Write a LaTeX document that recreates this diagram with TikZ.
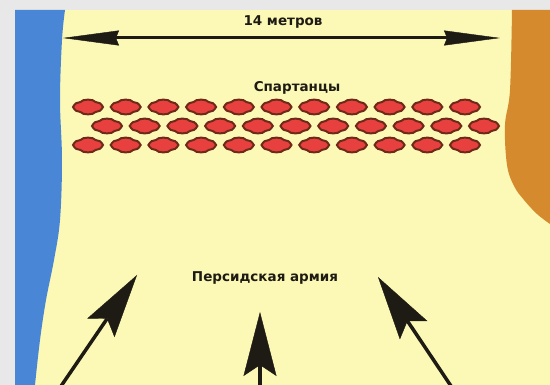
\documentclass[tikz,border=0pt]{standalone}
\usepackage{fontspec}
\setmainfont{DejaVu Sans}
\usetikzlibrary{arrows.meta}
\definecolor{bggrey}{HTML}{E8E8E8}
\definecolor{sand}{HTML}{FCF9B6}
\definecolor{sea}{HTML}{4A86D6}
\definecolor{mount}{HTML}{D68A2E}
\definecolor{shield}{HTML}{E8403E}
\definecolor{shieldedge}{HTML}{6E2A18}
\definecolor{ink}{HTML}{1E1A14}
\tikzset{
  lbl/.style={font=\bfseries\fontsize{13.5}{16}\selectfont, text=ink, inner sep=0pt},
  bigarrow/.style={draw=ink, line width=3.5pt, -{Stealth[length=64pt,width=33pt,inset=11pt,line width=0.4pt]}},
  spanarrow/.style={draw=ink, line width=3pt, {Stealth[length=56pt,width=15pt,inset=3pt,line width=0.4pt]}-{Stealth[length=56pt,width=15pt,inset=3pt,line width=0.4pt]}},
  soldier/.pic={
    \path[fill=shield, draw=shieldedge, line width=2pt]
      (-15,0) .. controls (-13,-3.5) and (-11,-5) .. (-7.5,-5)
      .. controls (-5.5,-8.2) and (5.5,-8.2) .. (7.5,-5)
      .. controls (11,-5) and (13,-3.5) .. (15,0)
      .. controls (13,3.5) and (11,5) .. (7.5,5)
      .. controls (5.5,8.2) and (-5.5,8.2) .. (-7.5,5)
      .. controls (-11,5) and (-13,3.5) .. (-15,0) -- cycle;
  }
}
\begin{document}
\begin{tikzpicture}[x=1pt,y=-1pt]
\useasboundingbox (0,0) rectangle (550,385);
\clip (0,0) rectangle (550,385);
\fill[bggrey] (0,0) rectangle (550,385);
\fill[sand] (15,10) rectangle (550,385);
\fill[sea] (15,10) -- plot[smooth, tension=0.6] coordinates {(65,10) (62,40) (60,100) (62,160) (60,220) (54,260) (46,300) (40,340) (35,385)} -- (15,385) -- cycle;
\fill[mount] (550,10) -- plot[smooth, tension=0.6] coordinates {(512,10) (510,90) (505,125) (507,165) (514,186) (524,200) (537,214) (550,224)} -- cycle;

% width arrow
\coordinate (wl) at (63,38);
\coordinate (wr) at (500,38);
\draw[spanarrow] (wl) -- (wr);
\node[lbl] (width) at (283,22) {14 метров};

% Spartans
\node[lbl] (sp) at (297,88) {Спартанцы};
\foreach \i in {0,...,10} {
  \pic at ({88+37.7*\i},107) {soldier};
  \pic at ({107+37.7*\i},126) {soldier};
  \pic at ({88+37.7*\i},145) {soldier};
}

% Persian army
\node[lbl] (pers) at (265,278) {Персидская армия};
\coordinate (a1s) at (57,392);
\coordinate (a1t) at (137,275);
\coordinate (a2s) at (260,392);
\coordinate (a2t) at (260,312);
\coordinate (a3s) at (455,392);
\coordinate (a3t) at (378,277);
\draw[bigarrow] (a1s) -- (a1t);
\draw[bigarrow] (a2s) -- (a2t);
\draw[bigarrow] (a3s) -- (a3t);
\end{tikzpicture}
\end{document}
